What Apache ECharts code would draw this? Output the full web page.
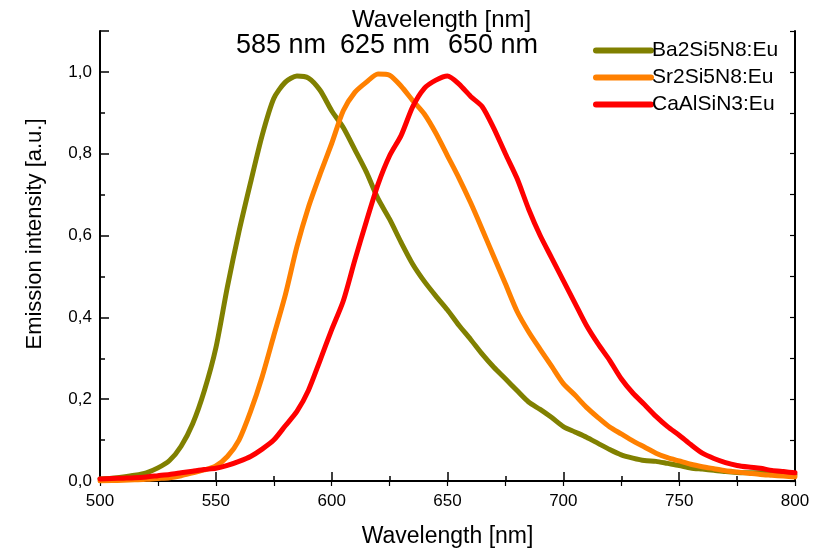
<!DOCTYPE html>
<html>
<head>
<meta charset="utf-8">
<script src="https://cdn.jsdelivr.net/npm/echarts@6/dist/echarts.min.js"></script>
<style>html,body{margin:0;padding:0;background:#fff;}#c{width:816px;height:551px;}</style>
</head>
<body>
<div id="c"></div>
<script>
const wavelengths = [];
for (let w = 500; w <= 800; w += 5) wavelengths.push(w);

const seriesNames = ['Ba2Si5N8:Eu', 'Sr2Si5N8:Eu', 'CaAlSiN3:Eu'];

const ba2si5n8 = [0.005,0.007,0.010,0.014,0.020,0.032,0.050,0.085,0.140,0.220,
0.325,0.475,0.610,0.730,0.845,0.935,0.975,0.990,0.985,0.955,
0.905,0.864,0.810,0.755,0.690,0.640,0.583,0.530,0.488,0.452,
0.418,0.380,0.346,0.310,0.278,0.250,0.221,0.193,0.175,0.155,
0.133,0.120,0.107,0.092,0.077,0.064,0.056,0.050,0.048,0.043,
0.038,0.032,0.029,0.026,0.023,0.021,0.020,0.020,0.018,0.016,0.015];

const sr2si5n8 = [0.000,0.001,0.002,0.003,0.004,0.006,0.008,0.013,0.020,0.027,
0.037,0.060,0.100,0.170,0.255,0.355,0.455,0.573,0.670,0.750,
0.825,0.905,0.950,0.975,0.995,0.992,0.965,0.930,0.897,0.850,
0.795,0.740,0.680,0.615,0.548,0.482,0.415,0.365,0.322,0.280,
0.238,0.210,0.180,0.155,0.132,0.115,0.098,0.083,0.068,0.057,
0.049,0.041,0.035,0.030,0.025,0.022,0.019,0.016,0.014,0.012,0.010];

const caalsin3 = [0.005,0.006,0.007,0.008,0.010,0.013,0.016,0.020,0.024,0.028,
0.031,0.038,0.048,0.060,0.078,0.100,0.135,0.170,0.222,0.295,
0.370,0.440,0.540,0.635,0.725,0.795,0.845,0.915,0.960,0.980,
0.990,0.970,0.940,0.915,0.862,0.800,0.740,0.665,0.600,0.545,
0.490,0.435,0.380,0.335,0.295,0.250,0.215,0.187,0.158,0.133,
0.112,0.089,0.068,0.055,0.045,0.038,0.034,0.031,0.026,0.023,0.020];

const peakLabels = ['585 nm', '625 nm', '650 nm'];
const xTitle = 'Wavelength [nm]';
const yTitle = 'Emission intensity [a.u.]';

const colors = ['#808000', '#FF8000', '#FF0000'];
const FONT = 'Liberation Sans, Arial, sans-serif';
const chart = echarts.init(document.getElementById('c'), null, {renderer: 'canvas'});

function pairs(arr) { return wavelengths.map((w, i) => [w, arr[i]]); }
const allData = [ba2si5n8, sr2si5n8, caalsin3];

const axisLine = {show: true, lineStyle: {color: '#000', width: 2}};
chart.setOption({
  animation: false,
  grid: {left: 100, right: 21, top: 31, bottom: 70, containLabel: false, outerBoundsMode: 'none'},
  legend: {
    orient: 'vertical', left: 588, top: 35, padding: 5, itemWidth: 55, itemHeight: 6, itemGap: 6,
    data: seriesNames,
    lineStyle: {width: 6, cap: 'round'},
    textStyle: {fontFamily: FONT, fontSize: 21, color: '#000', padding: [0, 0, 0, -4]}
  },
  xAxis: [{
    type: 'value', min: 500, max: 800, interval: 50, position: 'bottom',
    name: xTitle, nameLocation: 'middle', nameGap: 44,
    nameTextStyle: {fontFamily: FONT, fontSize: 23, color: '#000'},
    axisLine: axisLine,
    axisTick: {inside: true, length: 9, lineStyle: {color: '#000', width: 1.5}},
    minorTick: {show: true, splitNumber: 2, length: 5, lineStyle: {color: '#000', width: 1.5}},
    axisLabel: {fontFamily: FONT, fontSize: 17, color: '#000', margin: 12},
    splitLine: {show: false}
  }, {
    type: 'value', min: 500, max: 800, interval: 25, position: 'top',
    axisLine: axisLine,
    axisTick: {inside: true, length: 5, lineStyle: {color: '#000', width: 1.2}},
    axisLabel: {show: false}, splitLine: {show: false}
  }],
  yAxis: [{
    type: 'value', min: 0, max: 1.1, interval: 0.2, position: 'left',
    axisLine: axisLine,
    axisTick: {inside: true, length: 9, lineStyle: {color: '#000', width: 1.5}},
    minorTick: {show: true, splitNumber: 2, length: 5, lineStyle: {color: '#000', width: 1.5}},
    axisLabel: {fontFamily: FONT, fontSize: 17, color: '#000', margin: 8, showMaxLabel: false,
      formatter: v => v.toFixed(1).replace('.', ',')},
    splitLine: {show: false}
  }, {
    type: 'value', min: 0, max: 1.1, interval: 0.1, position: 'right',
    axisLine: axisLine,
    axisTick: {inside: true, length: 5, lineStyle: {color: '#000', width: 1.2}},
    axisLabel: {show: false}, splitLine: {show: false}
  }],
  graphic: [
    {type: 'text', left: 352, top: 8, style: {text: xTitle, font: '24px ' + FONT, fill: '#000'}, z: 100},
    {type: 'text', left: 236, top: 32, style: {text: peakLabels[0], font: '27px ' + FONT, fill: '#000'}, z: 100},
    {type: 'text', left: 340, top: 32, style: {text: peakLabels[1], font: '27px ' + FONT, fill: '#000'}, z: 100},
    {type: 'text', left: 448, top: 32, style: {text: peakLabels[2], font: '27px ' + FONT, fill: '#000'}, z: 100},
    {type: 'text', x: 35, y: 234, rotation: Math.PI / 2,
      style: {text: yTitle, font: '22px ' + FONT, fill: '#000', align: 'center', verticalAlign: 'middle',
        textAlign: 'center', textVerticalAlign: 'middle'}, z: 100}
  ],
  series: seriesNames.map((n, i) => ({
    name: n, type: 'line', data: pairs(allData[i]), showSymbol: false, symbol: 'none',
    smooth: 0.25,
    lineStyle: {color: colors[i], width: 5, cap: 'round', join: 'round'},
    itemStyle: {color: colors[i]}
  }))
});
</script>
</body>
</html>
